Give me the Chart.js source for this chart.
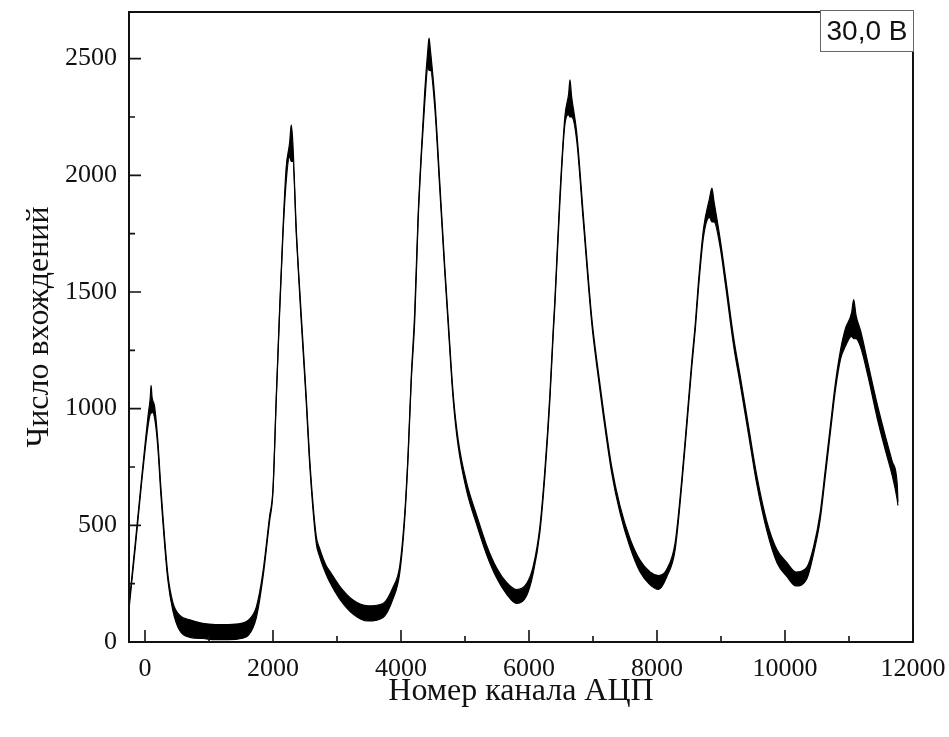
<!DOCTYPE html>
<html>
<head>
<meta charset="utf-8">
<script src="https://cdn.jsdelivr.net/npm/chart.js@4.4.1/dist/chart.umd.min.js"></script>
<style>
  html, body { margin: 0; padding: 0; background: #fff; }
  canvas { display: block; }
</style>
</head>
<body>
<canvas id="c" width="949" height="737"></canvas>
<script>
// ---- Data ----
const channels = [-250, -150, -50, 0, 50, 80, 95, 110, 150, 200, 250, 355, 435, 540, 700, 900, 1100, 1300, 1500, 1620, 1740, 1840, 1945, 2000, 2050, 2100, 2155, 2205, 2260, 2285, 2310, 2365, 2440, 2520, 2571, 2675, 2730, 2830, 2884, 3040, 3250, 3485, 3720, 3875, 3980, 4058, 4110, 4160, 4215, 4267, 4319, 4371, 4420, 4438, 4460, 4528, 4606, 4684, 4737, 4815, 4893, 5024, 5180, 5337, 5493, 5650, 5806, 5962, 6066, 6170, 6248, 6327, 6379, 6404, 6483, 6562, 6620, 6640, 6665, 6745, 6849, 6979, 7058, 7162, 7292, 7423, 7580, 7736, 7892, 8022, 8153, 8283, 8388, 8466, 8544, 8600, 8648, 8726, 8820, 8858, 8890, 8988, 9070, 9200, 9300, 9430, 9560, 9718, 9875, 10031, 10170, 10340, 10448, 10550, 10630, 10710, 10790, 10870, 10940, 11040, 11073, 11110, 11180, 11300, 11440, 11570, 11674, 11753, 11765];
const lowerCounts = [140, 410, 690, 820, 930, 975, 980, 985, 960, 835, 625, 270, 135, 50, 20, 15, 10, 10, 15, 30, 105, 270, 515, 645, 1030, 1385, 1740, 1970, 2080, 2060, 2060, 1740, 1380, 1025, 770, 425, 365, 290, 258, 185, 120, 90, 105, 185, 295, 525, 785, 1115, 1380, 1800, 2085, 2310, 2460, 2450, 2450, 2290, 1940, 1585, 1360, 1040, 840, 650, 505, 375, 275, 205, 165, 198, 295, 470, 712, 1040, 1320, 1440, 1885, 2220, 2260, 2250, 2250, 2150, 1800, 1370, 1185, 968, 725, 552, 405, 300, 245, 225, 280, 395, 675, 925, 1180, 1345, 1515, 1735, 1820, 1800, 1800, 1690, 1530, 1265, 1105, 890, 675, 475, 340, 280, 240, 270, 380, 525, 710, 900, 1085, 1215, 1265, 1310, 1300, 1300, 1265, 1135, 960, 820, 715, 610, 585];
const upperCounts = [160, 430, 710, 845, 975, 1040, 1100, 1050, 1010, 865, 655, 295, 170, 115, 95, 80, 75, 75, 80, 95, 150, 295, 535, 660, 1045, 1405, 1765, 2030, 2140, 2216, 2140, 1765, 1410, 1050, 795, 455, 400, 328, 305, 240, 180, 155, 165, 235, 325, 550, 805, 1135, 1420, 1825, 2110, 2360, 2540, 2588, 2535, 2330, 1970, 1610, 1385, 1065, 868, 685, 545, 415, 318, 255, 225, 250, 325, 495, 738, 1065, 1345, 1465, 1915, 2255, 2350, 2409, 2340, 2185, 1830, 1395, 1210, 995, 752, 582, 442, 350, 300, 285, 312, 425, 700, 950, 1205, 1370, 1545, 1770, 1900, 1945, 1890, 1725, 1565, 1300, 1140, 925, 712, 515, 395, 340, 300, 320, 410, 555, 740, 930, 1115, 1255, 1340, 1410, 1467, 1400, 1335, 1190, 1020, 880, 775, 680, 600];
const xTickValues = [0, 2000, 4000, 6000, 8000, 10000, 12000];
const xMinorTicks = [1000, 3000, 5000, 7000, 9000, 11000];
const yTickValues = [0, 500, 1000, 1500, 2000, 2500];
const yMinorTicks = [250, 750, 1250, 1750, 2250];
const xTitle = 'Номер канала АЦП';
const yTitle = 'Число вхождений';
const boxLabel = '30,0 В';

const lowerPts = channels.map((c, i) => ({ x: c, y: lowerCounts[i] }));
const upperPts = channels.map((c, i) => ({ x: c, y: upperCounts[i] }));

const serif = "'Liberation Serif', 'Times New Roman', serif";
const sans = "'Liberation Sans', Arial, sans-serif";
const ink = '#111';

const framePlugin = {
  id: 'frame',
  afterDraw(chart) {
    const { ctx, chartArea: a, scales: { x, y } } = chart;
    ctx.save();
    ctx.strokeStyle = ink;
    ctx.lineWidth = 2;
    ctx.strokeRect(a.left, a.top, a.right - a.left, a.bottom - a.top);
    ctx.lineWidth = 1.6;
    ctx.beginPath();
    xTickValues.forEach(v => { const p = x.getPixelForValue(v); ctx.moveTo(p, a.bottom); ctx.lineTo(p, a.bottom - 12); });
    xMinorTicks.forEach(v => { const p = x.getPixelForValue(v); ctx.moveTo(p, a.bottom); ctx.lineTo(p, a.bottom - 6); });
    yTickValues.forEach(v => { const p = y.getPixelForValue(v); ctx.moveTo(a.left, p); ctx.lineTo(a.left + 12, p); });
    yMinorTicks.forEach(v => { const p = y.getPixelForValue(v); ctx.moveTo(a.left, p); ctx.lineTo(a.left + 6, p); });
    ctx.stroke();
    // label box in the top-right corner
    const bw = 94, bh = 42;
    const bx = a.right + 1 - bw, by = a.top - 2;
    ctx.fillStyle = '#fff';
    ctx.fillRect(bx, by, bw, bh);
    ctx.strokeStyle = '#666';
    ctx.lineWidth = 1;
    ctx.strokeRect(bx + 0.5, by + 0.5, bw - 1, bh - 1);
    ctx.fillStyle = ink;
    ctx.font = '28px ' + sans;
    ctx.textAlign = 'center';
    ctx.textBaseline = 'middle';
    ctx.fillText(boxLabel, bx + bw / 2, by + bh / 2 + 1);
    ctx.restore();
  }
};

new Chart(document.getElementById('c'), {
  type: 'line',
  data: {
    datasets: [
      { data: lowerPts, borderColor: '#000', borderWidth: 1.2, pointRadius: 0, fill: false, cubicInterpolationMode: 'monotone' },
      { data: upperPts, borderColor: '#000', borderWidth: 1.2, pointRadius: 0, fill: '-1', backgroundColor: '#000', cubicInterpolationMode: 'monotone' }
    ]
  },
  options: {
    responsive: false,
    animation: false,
    devicePixelRatio: 1,
    layout: { padding: { left: 0, right: 36, top: 12, bottom: 0 } },
    plugins: { legend: { display: false }, tooltip: { enabled: false } },
    scales: {
      x: {
        type: 'linear',
        min: -250,
        max: 12000,
        afterBuildTicks: s => { s.ticks = xTickValues.map(v => ({ value: v })); },
        afterFit: s => { s.height = 95; s.paddingLeft = 0; s.paddingRight = 0; },
        grid: { display: false, drawTicks: false },
        border: { display: false },
        ticks: { font: { family: serif, size: 26 }, color: ink, padding: 12, maxRotation: 0, autoSkip: false, callback: v => String(v) },
        title: { display: true, text: xTitle, font: { family: serif, size: 32 }, color: ink, padding: { top: 0, bottom: 26 } }
      },
      y: {
        type: 'linear',
        min: 0,
        max: 2700,
        afterBuildTicks: s => { s.ticks = yTickValues.map(v => ({ value: v })); },
        afterFit: s => { s.width = 129; s.paddingTop = 0; s.paddingBottom = 0; },
        grid: { display: false, drawTicks: false },
        border: { display: false },
        ticks: { font: { family: serif, size: 26 }, color: ink, padding: 12, autoSkip: false, callback: v => String(v) },
        title: { display: true, text: yTitle, font: { family: serif, size: 32 }, color: ink, padding: { top: 20, bottom: 0 } }
      }
    }
  },
  plugins: [framePlugin]
});
</script>
</body>
</html>
